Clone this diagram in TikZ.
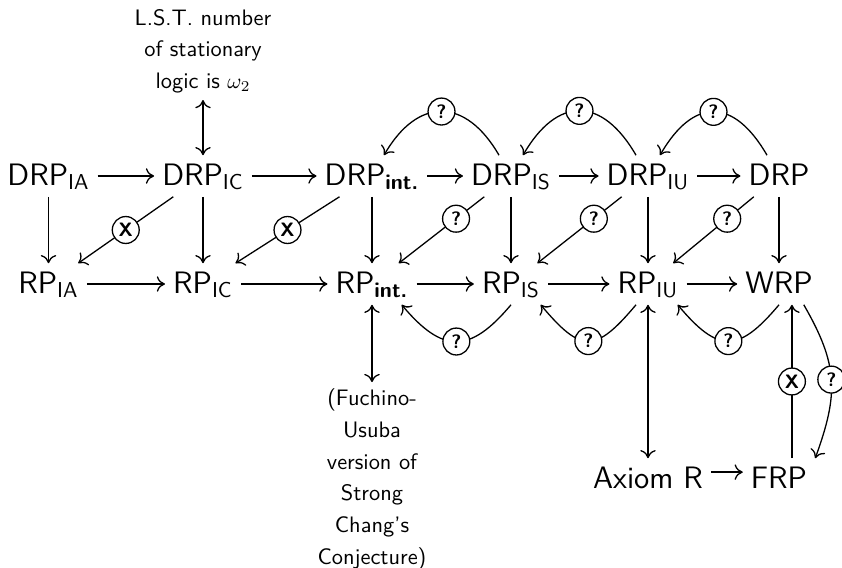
\documentclass[tikz,border=0pt]{standalone}
\usetikzlibrary{arrows.meta}

\newcommand{\sub}[1]{\textsubscript{#1}}

\begin{document}
\begin{tikzpicture}[
  x=0.01633cm,
  y=-0.01633cm,
  semithick,
  line join=round,
  >={Computer Modern Rightarrow[length=3.8pt,width=7.2pt]},
  obj/.style={font=\sffamily\Large, text height=10pt, text depth=1.5pt,
              inner xsep=3.5pt, inner ysep=3.6pt},
  note/.style={font=\sffamily\fontsize{10.4}{14.7}\selectfont, align=center,
               inner sep=3pt},
  qcirc/.style={circle, draw, fill=white, inner sep=0pt, minimum size=12.5pt,
                font=\sffamily\small\bfseries}
]
\useasboundingbox (0,0) rectangle (842,568);

% ---------- top row ----------
\node[obj] (dia)  at (48.5,176) {DRP\sub{IA}};
\node[obj] (dic)  at (203,176)  {DRP\sub{IC}};
\node[obj] (dint) at (372,176)  {DRP\sub{\bfseries int.}};
\node[obj] (dis)  at (511,176)  {DRP\sub{IS}};
\node[obj] (diu)  at (648,176)  {DRP\sub{IU}};
\node[obj] (drp)  at (779,176)  {DRP};

% ---------- second row ----------
\node[obj] (ria)  at (48.5,284) {RP\sub{IA}};
\node[obj] (ric)  at (203,284)  {RP\sub{IC}};
\node[obj] (rint) at (372,284)  {RP\sub{\bfseries int.}};
\node[obj] (ris)  at (511,284)  {RP\sub{IS}};
\node[obj] (riu)  at (648,284)  {RP\sub{IU}};
\node[obj] (wrp)  at (779,284)  {WRP};

% ---------- bottom row and notes ----------
\node[obj] (ax)  at (648,479) {Axiom R};
\node[obj] (frp) at (779,479) {FRP};
\node[note] (lst) at (203,51) {L.S.T. number\\of stationary\\logic is $\omega_2$};
\node[note] (fu) at (372,479.5)
  {(Fuchino-\\Usuba\\version of\\Strong\\Chang's\\Conjecture)};

% ---------- straight arrows ----------
\foreach \a/\b in {dia/dic, dic/dint, dint/dis, dis/diu, diu/drp,
                   ria/ric, ric/rint, rint/ris, ris/riu, riu/wrp,
                   dia/ria, dic/ric, dint/rint, dis/ris, diu/riu, drp/wrp}
  \draw[->] (\a) -- (\b);

\draw[->] (dic) -- node[qcirc] (x1) {X} (ria);
\draw[->] (dint) -- node[qcirc] (x2) {X} (ric);
\draw[->] (dis) -- node[qcirc,pos=0.33] (q1) {?} (rint);
\draw[->] (diu) -- node[qcirc,pos=0.33] (q2) {?} (ris);
\draw[->] (drp) -- node[qcirc,pos=0.33] (q3) {?} (riu);

% ---------- curved arrows ----------
\draw[->] (dis) to[out=120,in=60,looseness=1.5]  node[qcirc] (q4) {?} (dint);
\draw[->] (diu) to[out=120,in=60,looseness=1.55] node[qcirc] (q5) {?} (dis);
\draw[->] (drp) to[out=120,in=60,looseness=1.6]  node[qcirc] (q6) {?} (diu);

\draw[->] (ris.south) to[out=-130,in=-50,looseness=1.5] node[qcirc] (q7) {?} (rint.-35);
\draw[->] (riu.-120)  to[out=-130,in=-50,looseness=1.7] node[qcirc] (q8) {?} (ris.-35);
\draw[->] (wrp.south) to[out=-130,in=-50,looseness=1.6] node[qcirc] (q9) {?} (riu.-35);

% ---------- the rest ----------
\draw[<->] (lst) -- (dic);
\draw[<->] (rint) -- (fu);
\draw[<->] (riu) -- (ax);
\draw[->] ([yshift=3.2pt]ax.east) -- ([yshift=3.2pt]frp.west);
\draw[->] ([xshift=6pt]frp.north) -- node[qcirc] (x3) {X} ([xshift=6pt]wrp.south);
\draw[->] (wrp.-40) to[out=-60,in=70,looseness=1.15] node[qcirc] (q10) {?} (frp.north east);

\end{tikzpicture}
\end{document}
